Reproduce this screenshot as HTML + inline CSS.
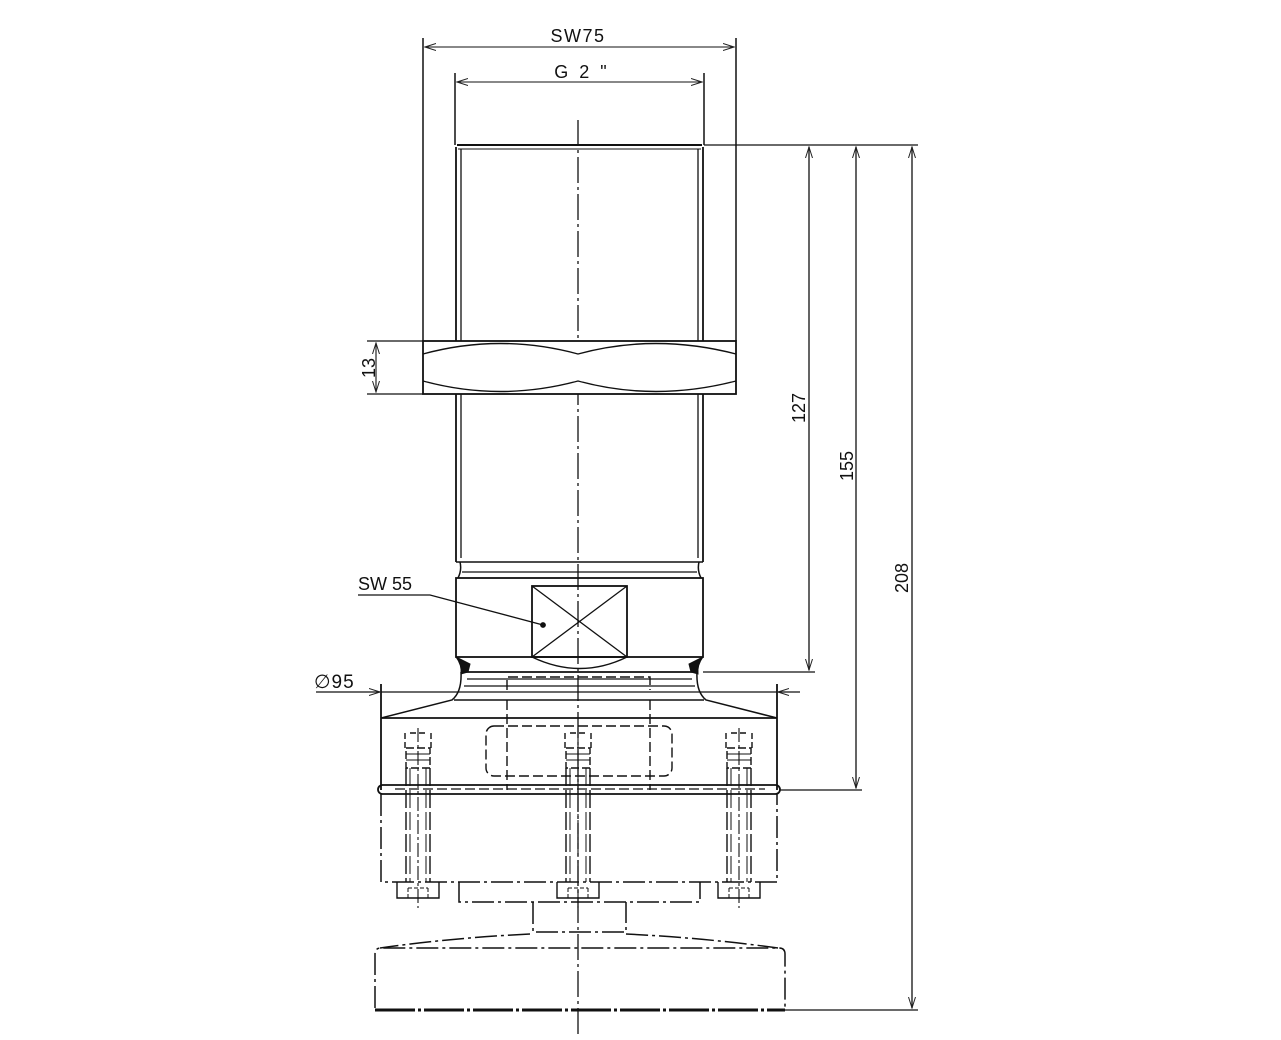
<!DOCTYPE html>
<html><head><meta charset="utf-8"><style>
html,body{margin:0;padding:0;background:#fff;}
svg{display:block}
text{font-family:"Liberation Sans",sans-serif;fill:#111}
</style></head><body>
<svg width="1281" height="1040" viewBox="0 0 1281 1040" xmlns="http://www.w3.org/2000/svg">
<defs>
<marker id="a" markerWidth="12" markerHeight="8" refX="11" refY="4" orient="auto-start-reverse" markerUnits="userSpaceOnUse">
<path d="M0,0.5 L11,4 L0,7.5" fill="none" stroke="#222" stroke-width="1"/></marker>
<g id="b" stroke="#111" fill="none" stroke-width="1.4">
<path d="M-13,733 L-13,748 M13,733 L13,748 M-8,733 L8,733" stroke-dasharray="6,3"/>
<rect x="-12" y="748" width="24" height="20" stroke-dasharray="8,3"/>
<path d="M-12,754 L12,754 M-12,760 L12,760" stroke-width="1"/>
<path d="M-12,768 L-12,882 M12,768 L12,882" stroke-dasharray="18,4"/>
<path d="M-8,768 L-8,882 M8,768 L8,882" stroke-dasharray="18,4" stroke-width="1"/>
<path d="M0,728 L0,908" stroke-dasharray="14,3,3,3" stroke-width="1.1"/>
<path d="M-21,882 L-21,898 L21,898 L21,882"/>
<path d="M-10,888 L10,888 M-10,888 L-10,898 M10,888 L10,898" stroke-dasharray="4,2" stroke-width="1"/>
</g>
</defs>
<g stroke="#111" stroke-width="1.8" fill="none">
<line x1="578" y1="120" x2="578" y2="1035" stroke-width="1.3" stroke-dasharray="26,4,3,4"/>
<line x1="423" y1="38" x2="423" y2="341" stroke-width="1.5"/>
<line x1="736" y1="38" x2="736" y2="341" stroke-width="1.5"/>
<line x1="425" y1="47" x2="734" y2="47" stroke-width="1.1" marker-start="url(#a)" marker-end="url(#a)"/>
<line x1="455" y1="73" x2="455" y2="145" stroke-width="1.5"/>
<line x1="704" y1="73" x2="704" y2="145" stroke-width="1.5"/>
<line x1="457" y1="82" x2="702" y2="82" stroke-width="1.1" marker-start="url(#a)" marker-end="url(#a)"/>
<line x1="457" y1="145" x2="702" y2="145" stroke-width="2"/>
<line x1="458" y1="149" x2="701" y2="149" stroke-width="1.1"/>
<line x1="456" y1="147" x2="456" y2="562"/>
<line x1="461" y1="149" x2="461" y2="558" stroke-width="1.3"/>
<line x1="703" y1="147" x2="703" y2="562"/>
<line x1="698" y1="149" x2="698" y2="558" stroke-width="1.3"/>
<rect x="423" y="341" width="313" height="53" fill="#fff"/>
<path d="M423,354 Q500,333 578,354 Q655,333 736,354" stroke-width="1.4"/>
<path d="M423,381 Q500,402 578,381 Q655,402 736,381" stroke-width="1.4"/>
<line x1="367" y1="341" x2="423" y2="341" stroke-width="1.3"/>
<line x1="367" y1="394" x2="423" y2="394" stroke-width="1.3"/>
<line x1="376" y1="343" x2="376" y2="392" stroke-width="1.1" marker-start="url(#a)" marker-end="url(#a)"/>
<path d="M456,562 L703,562 M460,562 Q462,570 458,578 M699,562 Q697,570 701,578" stroke-width="1.5"/>
<line x1="462" y1="572" x2="697" y2="572" stroke-width="1.3"/>
<rect x="456" y="578" width="247" height="79"/>
<rect x="532" y="586" width="95" height="71"/>
<line x1="532" y1="586" x2="627" y2="657" stroke-width="1.3"/>
<line x1="627" y1="586" x2="532" y2="657" stroke-width="1.3"/>
<path d="M532,657 Q580,680 627,657" stroke-width="1.4"/>
<path d="M358,595 L430,595 L543,625" stroke-width="1.3"/>
<circle cx="543" cy="625" r="2" fill="#111"/>
<path d="M456,657 Q462,665 461,674 L468,672 L470,664 Z" fill="#111" stroke-width="1"/>
<path d="M703,657 Q697,665 698,674 L691,672 L689,664 Z" fill="#111" stroke-width="1"/>
<line x1="462" y1="672" x2="697" y2="672"/>
<line x1="467" y1="679" x2="692" y2="679" stroke-width="1.3"/>
<line x1="464" y1="686" x2="695" y2="686" stroke-width="1.3"/>
<path d="M461,672 Q462,692 452,700 L381,718 M697,672 Q696,692 706,700 L777,718" stroke-width="1.5"/>
<line x1="454" y1="700" x2="704" y2="700" stroke-width="1.4"/>
<path d="M507,690 L507,677 L650,677 L650,690" stroke-dasharray="10,4" stroke-width="1.4"/>
<line x1="381" y1="684" x2="381" y2="790"/>
<line x1="777" y1="684" x2="777" y2="790"/>
<line x1="316" y1="692" x2="380" y2="692" stroke-width="1.3" marker-end="url(#a)"/>
<line x1="800" y1="692" x2="778" y2="692" stroke-width="1.3" marker-end="url(#a)"/>
<line x1="381" y1="692" x2="777" y2="692" stroke-width="1.3"/>
<line x1="381" y1="718" x2="777" y2="718"/>
<rect x="486" y="726" width="186" height="50" rx="8" stroke-dasharray="10,4" stroke-width="1.4"/>
<path d="M507,700 L507,790 M650,700 L650,790" stroke-dasharray="10,4" stroke-width="1.4"/>
<rect x="378" y="785" width="402" height="9" rx="4.5" stroke-width="1.8"/>
<line x1="395" y1="789" x2="765" y2="789" stroke-dasharray="10,4" stroke-width="1.3"/>
<g stroke-dasharray="22,4,3,4" stroke-width="1.5">
<path d="M381,794 L381,882 L777,882 L777,794"/>
<path d="M459,882 L459,902 L700,902 L700,882"/>
<path d="M533,902 L533,932 L626,932 L626,902"/>
<path d="M530,934 Q450,938 380,948 M626,934 Q706,938 778,948"/>
<path d="M375,1008 L375,954 Q375,948 381,948 L779,948 Q785,948 785,954 L785,1008"/>
</g>
<path d="M375,1010 L785,1010" stroke-width="3" stroke-dasharray="40,3,3,3"/>
<line x1="785" y1="1010" x2="918" y2="1010" stroke-width="1.3"/>
<line x1="704" y1="145" x2="918" y2="145" stroke-width="1.3"/>
<line x1="703" y1="672" x2="815" y2="672" stroke-width="1.3"/>
<line x1="780" y1="790" x2="862" y2="790" stroke-width="1.3"/>
<line x1="809" y1="147" x2="809" y2="670" stroke-width="1.3" marker-start="url(#a)" marker-end="url(#a)"/>
<line x1="856" y1="147" x2="856" y2="788" stroke-width="1.3" marker-start="url(#a)" marker-end="url(#a)"/>
<line x1="912" y1="147" x2="912" y2="1008" stroke-width="1.3" marker-start="url(#a)" marker-end="url(#a)"/>
</g>
<use href="#b" transform="translate(418,0)"/>
<use href="#b" transform="translate(578,0)"/>
<use href="#b" transform="translate(739,0)"/>
<text x="578" y="42" font-size="18" text-anchor="middle" letter-spacing="1.5">SW75</text>
<text x="582" y="78" font-size="18" text-anchor="middle" letter-spacing="3">G 2 "</text>
<text x="358" y="590" font-size="18">SW 55</text>
<text x="314" y="688" font-size="19" letter-spacing="1">∅95</text>
<text transform="translate(375,368) rotate(-90)" font-size="18" text-anchor="middle">13</text>
<text transform="translate(805,408) rotate(-90)" font-size="18" text-anchor="middle">127</text>
<text transform="translate(853,466) rotate(-90)" font-size="18" text-anchor="middle">155</text>
<text transform="translate(908,578) rotate(-90)" font-size="18" text-anchor="middle">208</text>
</svg>
</body></html>
